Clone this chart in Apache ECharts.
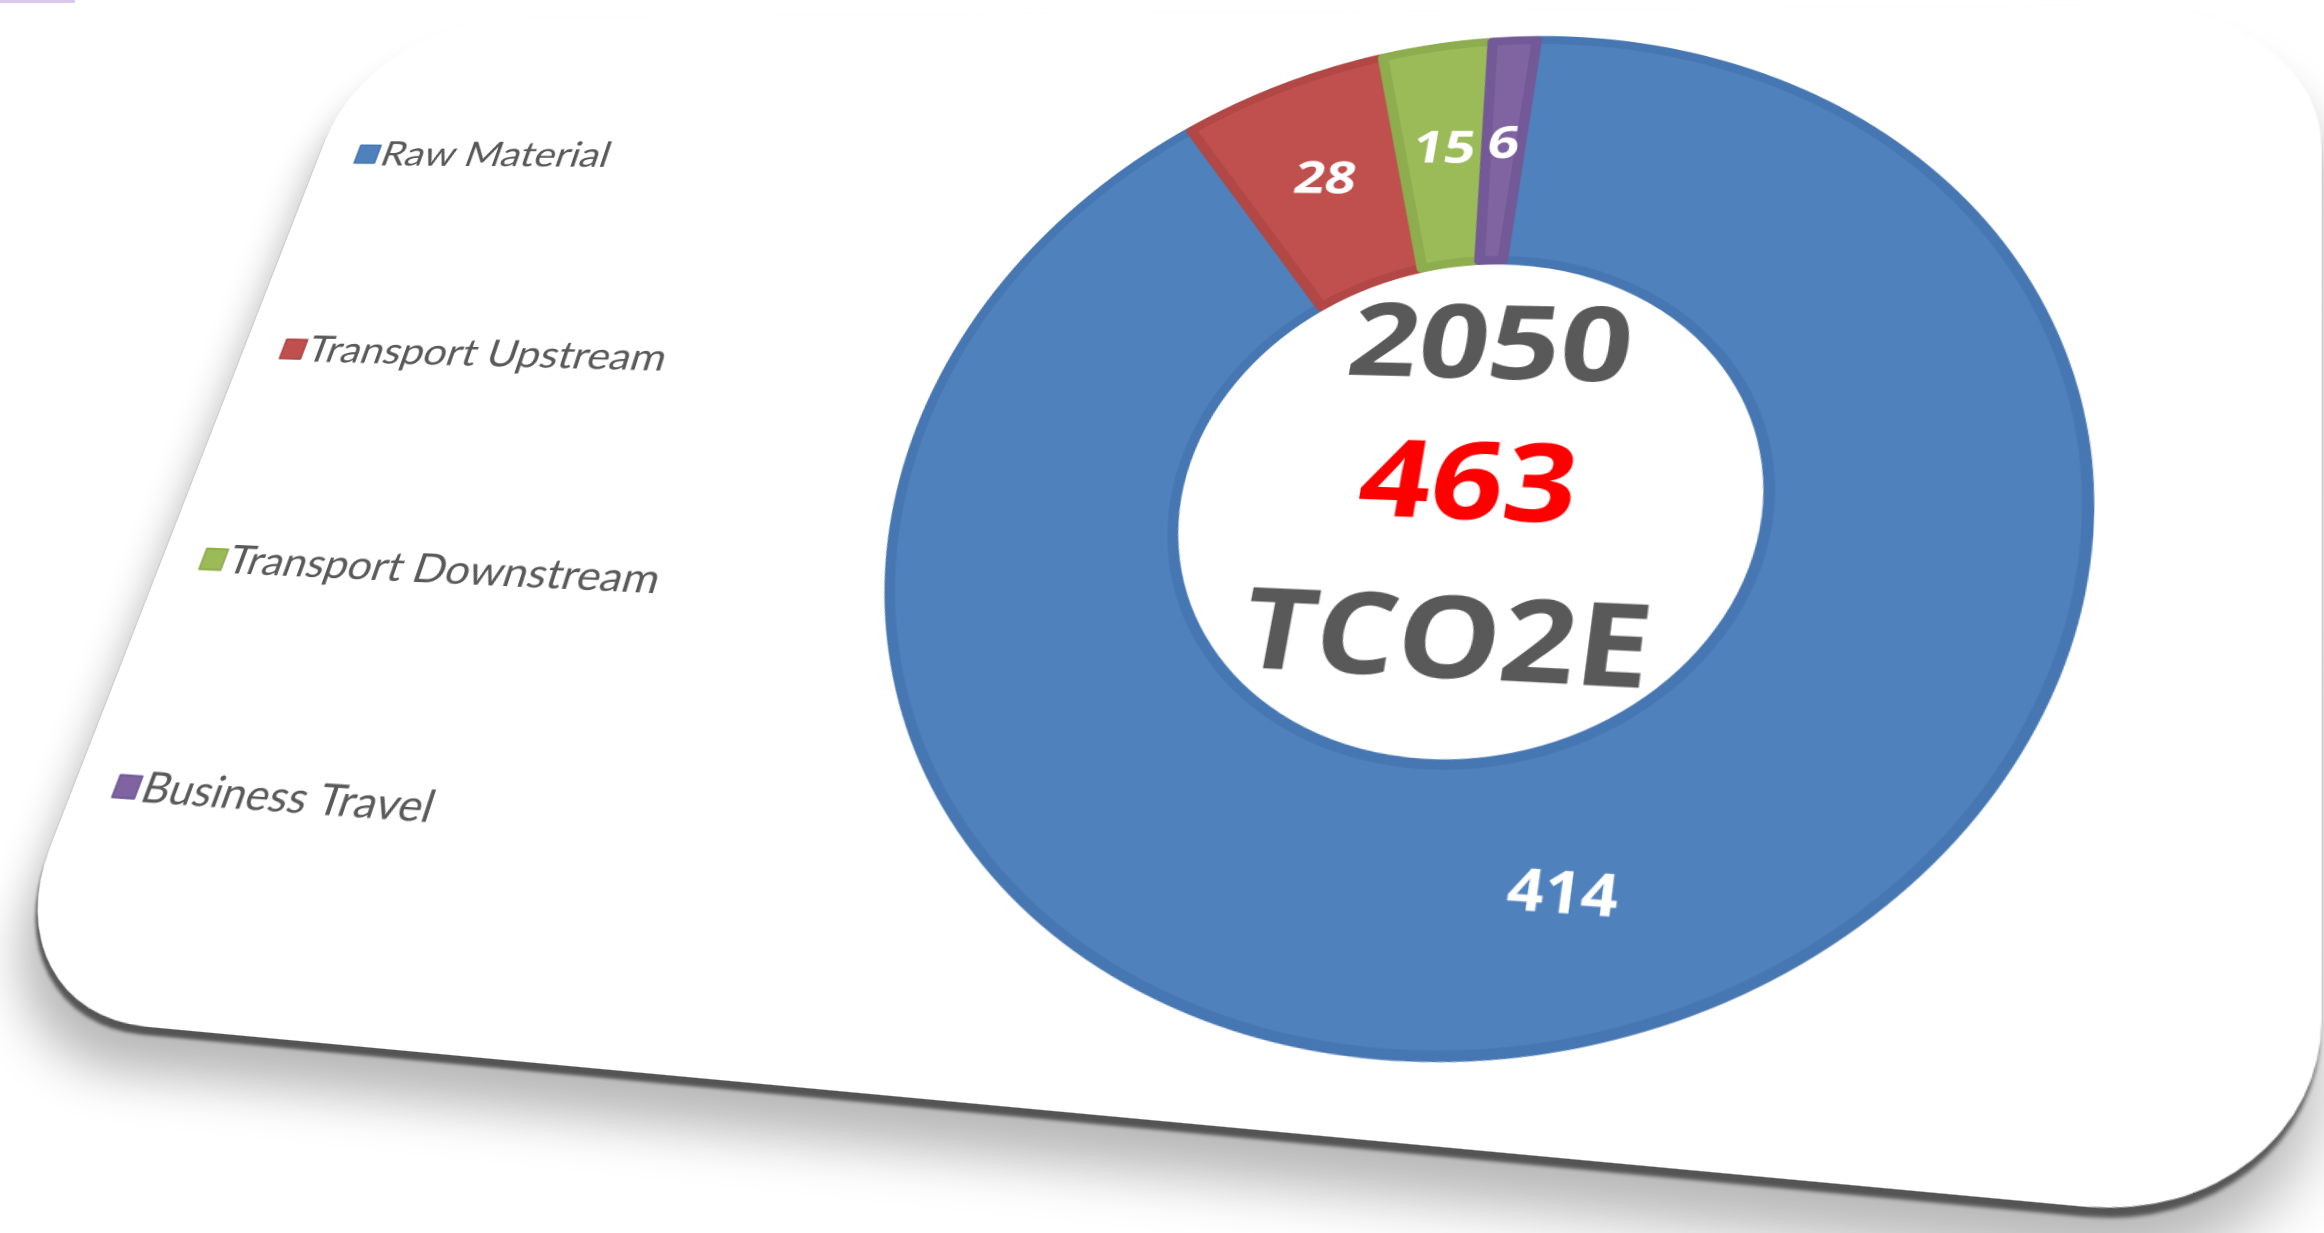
<!DOCTYPE html>
<html>
<head>
<meta charset="utf-8">
<script src="https://cdn.jsdelivr.net/npm/echarts@6/dist/echarts.min.js"></script>
<style>
html, body { margin: 0; padding: 0; width: 2324px; height: 1233px; overflow: hidden; background: #fff; }
#mark { position: absolute; left: 0; top: 0; width: 75px; height: 3px; background: #dcc8ec; }
#card {
  position: absolute; left: 0; top: 0; transform-origin: 0 0;
  background: #fff; border-radius: 150px;
  box-shadow: 0 8px 3px -1px rgba(0,0,0,0.55), 0 40px 40px rgba(0,0,0,0.28);
}
#chart { width: 100%; height: 100%; }
</style>
</head>
<body>
<div id="mark"></div>
<div id="card"><div id="chart"></div></div>
<script>
// data
const categories = ['Raw Material', 'Transport Upstream', 'Transport Downstream', 'Business Travel'];
const values = [414, 28, 15, 6];
const colors = ['#4F81BD', '#C0504D', '#9BBB59', '#8064A2'];
const edgeColors = ['#4677B2', '#B14845', '#8DAD4E', '#735997'];
const centerLines = ['2050', '463', 'TCO2E'];

// the card is seen in perspective: map a flat card onto this quad (page px)
const quad = [[372, 20], [2322, 5], [2322, 1229], [-14, 1012]];
const W = 1800;

function squareToQuad(q) {
  const [x0, y0] = q[0], [x1, y1] = q[1], [x2, y2] = q[2], [x3, y3] = q[3];
  const dx1 = x1 - x2, dx2 = x3 - x2, dx3 = x0 - x1 + x2 - x3;
  const dy1 = y1 - y2, dy2 = y3 - y2, dy3 = y0 - y1 + y2 - y3;
  const den = dx1 * dy2 - dx2 * dy1;
  const g = (dx3 * dy2 - dx2 * dy3) / den;
  const h = (dx1 * dy3 - dx3 * dy1) / den;
  return { a: x1 - x0 + g * x1, b: x3 - x0 + h * x3, c: x0,
           d: y1 - y0 + g * y1, e: y3 - y0 + h * y3, f: y0, g, h };
}
const M = squareToQuad(quad);

function toUV(X, Y) {
  const A1 = M.a - M.g * X, B1 = M.b - M.h * X, C1 = X - M.c;
  const A2 = M.d - M.g * Y, B2 = M.e - M.h * Y, C2 = Y - M.f;
  const det = A1 * B2 - B1 * A2;
  return [(C1 * B2 - B1 * C2) / det, (A1 * C2 - C1 * A2) / det];
}

// where the ring edges sit in the page, used to size the flat card
const ringL = toUV(879, 578), ringR = toUV(2085, 593);
const ringT = toUV(1504, 40), ringB = toUV(1423, 1058);
const H = Math.round(W * (ringR[0] - ringL[0]) / (ringB[1] - ringT[1]));
const R = (ringR[0] - ringL[0]) / 2 * W;
const cx = (ringL[0] + ringR[0]) / 2 * W;
const cy = (ringT[1] + ringB[1]) / 2 * H;

const legTop = toUV(362, 128), legBot = toUV(80, 750);
const legX = legTop[0] * W, legY = legTop[1] * H;
const legStep = (legBot[1] - legTop[1]) * H / 3;

const card = document.getElementById('card');
card.style.width = W + 'px';
card.style.height = H + 'px';
card.style.transform = 'matrix3d(' + [
  M.a / W, M.d / W, 0, M.g / W,
  M.b / H, M.e / H, 0, M.h / H,
  0, 0, 1, 0,
  M.c, M.f, 0, 1
].join(',') + ')';

const chart = echarts.init(document.getElementById('chart'), null, { devicePixelRatio: 2 });

const legendFont = Math.round(R * 0.085);
const labelFont = Math.round(R * 0.1);
const centerFont = Math.round(R * 0.215);

const option = {
  animation: false,
  color: colors,
  legend: {
    orient: 'vertical',
    left: legX,
    top: legY,
    itemGap: legStep - legendFont * 1.3,
    icon: 'rect',
    itemWidth: legendFont * 0.52,
    itemHeight: legendFont * 0.52,
    textStyle: { color: '#595959', fontSize: legendFont, fontFamily: 'Lato', lineHeight: legendFont * 1.3 },
    data: categories
  },
  graphic: centerLines.map((t, i) => ({
    type: 'text',
    x: cx,
    y: cy + [-0.31, -0.025, 0.28][i] * R,
    style: {
      text: t,
      fill: i === 1 ? '#FF0000' : '#595959',
      font: 'bold ' + centerFont + 'px "Open Sans"',
      align: 'center', verticalAlign: 'middle',
      textAlign: 'center', textVerticalAlign: 'middle'
    }
  })),
  series: [{
    type: 'pie',
    center: [cx, cy],
    radius: [R * 0.5, R],
    startAngle: 90,
    clockwise: true,
    avoidLabelOverlap: false,
    label: {
      show: true,
      position: 'inside',
      color: '#fff',
      fontFamily: 'Open Sans',
      fontWeight: 'bold',
      fontSize: labelFont,
      formatter: '{c}'
    },
    labelLine: { show: false },
    emphasis: { disabled: true },
    data: categories.map((name, i) => ({
      name,
      value: values[i],
      itemStyle: { color: colors[i], borderColor: edgeColors[i], borderWidth: 9 }
    }))
  }]
};
chart.setOption(option);
</script>
</body>
</html>
